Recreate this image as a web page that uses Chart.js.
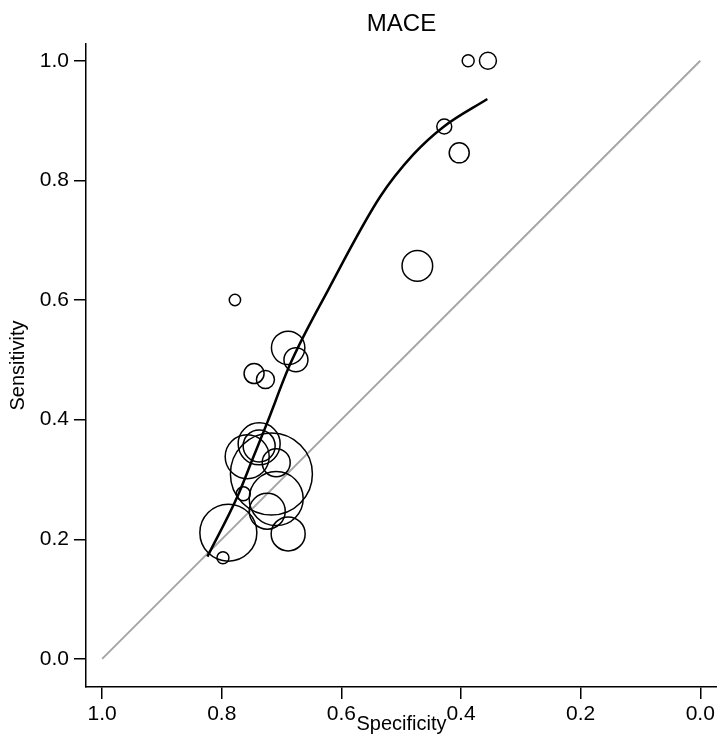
<!DOCTYPE html>
<html>
<head>
<meta charset="utf-8">
<script src="https://cdn.jsdelivr.net/npm/chart.js@4/dist/chart.umd.min.js"></script>
<style>
  html, body { margin: 0; padding: 0; background: #fff; }
  #wrap { width: 717px; height: 734px; position: relative; }
</style>
</head>
<body>
<div id="wrap"><canvas id="c"></canvas></div>
<script>
// Study-level estimates (specificity, sensitivity, relative study weight)
const specificity = [0.388, 0.355, 0.428, 0.403, 0.473, 0.778, 0.689, 0.676, 0.746, 0.727,
                     0.7375, 0.7575, 0.7375, 0.709, 0.717, 0.709, 0.724, 0.764, 0.789, 0.689, 0.798];
const sensitivity = [1.000, 1.000, 0.890, 0.846, 0.657, 0.600, 0.520, 0.500, 0.477, 0.467,
                     0.3595, 0.338, 0.356, 0.328, 0.309, 0.268, 0.247, 0.276, 0.211, 0.209, 0.169];
const studyWeight = [36, 72, 56, 100, 234, 32, 279, 144, 100, 81,
                     441, 484, 256, 196, 1681, 729, 324, 49, 812, 289, 36];

// SROC curve (specificity, sensitivity)
const srocSpec = [0.824, 0.774, 0.747, 0.724, 0.686, 0.622, 0.535, 0.480, 0.430, 0.356];
const srocSens = [0.171, 0.271, 0.338, 0.395, 0.492, 0.617, 0.773, 0.843, 0.889, 0.936];

// Chance line
const chanceSpec = [1.0, 0.0];
const chanceSens = [0.0, 1.0];

const tickValues = [0.0, 0.2, 0.4, 0.6, 0.8, 1.0];
const titleText = 'MACE';
const xTitle = 'Specificity';
const yTitle = 'Sensitivity';

const FONT = '"Liberation Sans", Arial, Helvetica, sans-serif';

const bubbles = specificity.map((s, i) => ({ x: s, y: sensitivity[i], r: Math.sqrt(studyWeight[i]) }));
const curve = srocSpec.map((s, i) => ({ x: s, y: srocSens[i] }));
const chance = chanceSpec.map((s, i) => ({ x: s, y: chanceSens[i] }));

const titlePlugin = {
  id: 'centerTitle',
  afterDraw(chart) {
    const ctx = chart.ctx, a = chart.chartArea;
    ctx.save();
    ctx.fillStyle = '#000';
    ctx.font = '24px ' + FONT;
    ctx.textAlign = 'center';
    ctx.textBaseline = 'middle';
    ctx.fillText(titleText, (a.left + a.right) / 2, 24);
    ctx.restore();
  }
};

const axisCommon = {
  type: 'linear',
  border: { display: true, color: '#000', width: 1.5 },
  grid: { display: true, drawOnChartArea: false, drawTicks: true, tickLength: 12, color: '#000', lineWidth: 1.5 },
  ticks: { color: '#000', font: { family: FONT, size: 21 }, callback: v => v.toFixed(1) },
  afterBuildTicks: s => { s.ticks = tickValues.map(v => ({ value: v })); }
};

new Chart(document.getElementById('c'), {
  type: 'bubble',
  data: {
    datasets: [
      { type: 'line', data: chance, borderColor: '#a6a6a6', borderWidth: 2, pointRadius: 0, fill: false, order: 3 },
      { type: 'line', data: curve, borderColor: '#000', borderWidth: 2.5, pointRadius: 0, fill: false,
        cubicInterpolationMode: 'monotone', order: 2 },
      { type: 'bubble', data: bubbles, borderColor: '#000', borderWidth: 1.5, backgroundColor: 'rgba(0,0,0,0)', clip: false, order: 1 }
    ]
  },
  options: {
    responsive: true,
    maintainAspectRatio: false,
    animation: false,
    events: [],
    layout: { autoPadding: false, padding: { top: 44, left: 0, right: 0, bottom: 0 } },
    plugins: { legend: { display: false }, tooltip: { enabled: false }, title: { display: false } },
    scales: {
      x: Object.assign({}, axisCommon, {
        position: 'bottom', reverse: true, min: -0.028, max: 1.027,
        ticks: Object.assign({}, axisCommon.ticks, { padding: 3, maxRotation: 0 }),
        title: { display: true, text: xTitle, color: '#000', font: { family: FONT, size: 20 }, padding: { top: 0, bottom: -2 } },
        afterFit: s => { s.height = 47; s.paddingLeft = 0; s.paddingRight = 0; }
      }),
      y: Object.assign({}, axisCommon, {
        position: 'left', min: -0.047, max: 1.028,
        ticks: Object.assign({}, axisCommon.ticks, { padding: 5 }),
        title: { display: true, text: yTitle, color: '#000', font: { family: FONT, size: 20 }, padding: { top: 6, bottom: 0 } },
        afterFit: s => { s.width = 86; s.paddingTop = 0; s.paddingBottom = 0; }
      })
    }
  },
  plugins: [titlePlugin]
});
</script>
</body>
</html>
